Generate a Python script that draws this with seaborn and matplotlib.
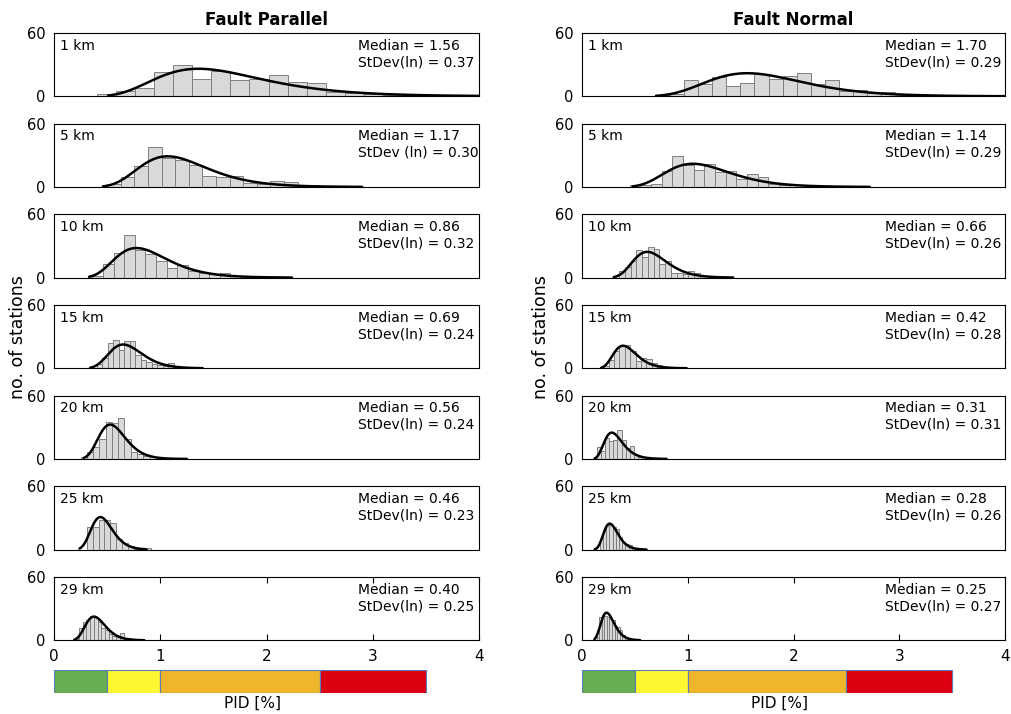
#!/usr/bin/env python
# -*- coding: utf-8 -*-

"""
PID histograms per distance, fault parallel / fault normal
"""

import numpy as np
import pandas as pd
import matplotlib
matplotlib.use("Agg")
import matplotlib.pyplot as plt
import seaborn as sns

sns.set_style("white")
plt.rcParams['font.family'] = ['DejaVu Sans']
plt.rcParams['text.color'] = 'black'
plt.rcParams['axes.labelcolor'] = 'black'
plt.rcParams['xtick.color'] = 'black'
plt.rcParams['ytick.color'] = 'black'

# distances (km)
distances = [1, 5, 10, 15, 20, 25, 29]

# Fault Parallel: histogram counts, first bin edge, bin width
fp_counts = [
    [2, 5, 8, 23, 30, 16, 24, 15, 16, 20, 14, 13, 4, 3, 2, 1],
    [3, 9, 20, 38, 27, 26, 21, 10, 9, 10, 4, 3, 6, 5],
    [2, 13, 23, 40, 26, 22, 16, 9, 12, 6, 4, 3, 4, 2, 2],
    [4, 10, 24, 27, 17, 26, 26, 13, 8, 6, 4, 3, 2, 5],
    [2, 7, 11, 19, 35, 34, 39, 19, 7, 5, 3],
    [21, 21, 28, 28, 25, 10, 6, 3, 1, 0, 2],
    [1, 12, 17, 19, 23, 22, 17, 12, 10, 6, 4, 3, 7, 1, 2],
]
fp_bin_start = [0.40, 0.50, 0.36, 0.40, 0.25, 0.31, 0.20]
fp_bin_width = [0.18, 0.128, 0.10, 0.052, 0.059, 0.055, 0.035]
fp_median = [1.56, 1.17, 0.86, 0.69, 0.56, 0.46, 0.40]
fp_stdev = [0.37, 0.30, 0.32, 0.24, 0.24, 0.23, 0.25]
fp_curve_lo = [0.51, 0.46, 0.33, 0.34, 0.28, 0.24, 0.19]
fp_curve_hi = [4.0, 2.9, 2.24, 1.40, 1.25, 0.87, 0.85]

# Fault Normal
fn_counts = [
    [1, 2, 15, 12, 18, 10, 13, 21, 16, 19, 22, 12, 15, 5, 6, 3, 4, 1],
    [2, 2, 3, 15, 29, 21, 16, 22, 14, 15, 8, 12, 9, 3, 2],
    [6, 10, 16, 26, 20, 29, 27, 13, 16, 4, 4, 3, 6, 4, 2],
    [2, 8, 16, 21, 22, 16, 7, 10, 9, 5, 3],
    [11, 8, 20, 17, 18, 27, 18, 10, 12, 4, 2],
    [10, 18, 22, 23, 21, 20, 12, 7, 5, 4, 2, 1],
    [3, 22, 24, 23, 22, 20, 19, 14, 13, 10, 5, 2, 1],
]
fn_bin_start = [0.70, 0.45, 0.35, 0.20, 0.14, 0.17, 0.14]
fn_bin_width = [0.133, 0.101, 0.0546, 0.051, 0.039, 0.03, 0.024]
fn_median = [1.70, 1.14, 0.66, 0.42, 0.31, 0.28, 0.25]
fn_stdev = [0.29, 0.29, 0.26, 0.28, 0.31, 0.26, 0.27]
fn_curve_lo = [0.70, 0.48, 0.30, 0.18, 0.12, 0.12, 0.117]
fn_curve_hi = [4.0, 2.72, 1.43, 0.99, 0.80, 0.61, 0.55]

# PID damage scale bar
pid_edges = [0.0, 0.5, 1.0, 2.5, 3.5]
pid_colors = ['#67ad52', '#fdf731', '#efb62b', '#dd0010']

W, H = 1011, 714
fig = plt.figure(figsize=(W / 100, H / 100), dpi=100)


def lognormal_fit(lo, hi, med, sd, n, w):
    # 拟合曲线: 对数正态分布按样本数和箱宽缩放
    xs = np.linspace(lo, hi, 400)
    pdf = np.exp(-(np.log(xs) - np.log(med)) ** 2 / (2 * sd ** 2)) / (xs * sd * np.sqrt(2 * np.pi))
    return xs, pdf * n * w


def draw_column(x0, x1, title, counts, starts, widths, meds, sds, los, his, sd_labels):
    axes = []
    for k in range(len(distances)):
        top = 33 + 90.67 * k
        ax = fig.add_axes([x0 / W, 1 - (top + 63.3) / H, (x1 - x0) / W, 63.3 / H])
        c = np.array(counts[k], dtype=float)
        edges = starts[k] + widths[k] * np.arange(len(c) + 1)
        df = pd.DataFrame({'pid': (edges[:-1] + edges[1:]) / 2, 'n': c})
        sns.histplot(data=df, x='pid', weights='n', bins=edges.tolist(), ax=ax,
                     color='#d9d9d9', edgecolor='#7f7f7f', linewidth=0.7, alpha=1)
        xs, ys = lognormal_fit(los[k], his[k], meds[k], sds[k], c.sum(), widths[k])
        ax.plot(xs, ys, color='black', linewidth=1.8)
        ax.set_xlim(0, 4)
        ax.set_ylim(0, 60)
        ax.set_yticks([0, 60])
        ax.set_ylabel('')
        ax.set_xlabel('')
        ax.tick_params(axis='y', direction='in', length=0, labelsize=10.5, pad=6)
        for s in ax.spines.values():
            s.set_color('black')
            s.set_linewidth(0.8)
        ax.text(0.015, 0.80, f'{distances[k]} km', transform=ax.transAxes,
                fontsize=10, va='center', ha='left')
        ax.text(0.716, 0.80, f'Median = {meds[k]:.2f}', transform=ax.transAxes,
                fontsize=10, va='center', ha='left')
        ax.text(0.716, 0.54, f'{sd_labels[k]} = {sds[k]:.2f}', transform=ax.transAxes,
                fontsize=10, va='center', ha='left')
        if k < len(distances) - 1:
            ax.set_xticks([])
        else:
            ax.set_xticks([0, 1, 2, 3, 4])
            ax.tick_params(axis='x', direction='in', length=4, top=True,
                           bottom=True, labelsize=11, pad=6)
        axes.append(ax)
    axes[0].set_title(title, fontsize=12, fontweight='bold', pad=6)

    # PID colour bar
    cax = fig.add_axes([x0 / W, 1 - 692.7 / H, (x1 - x0) / W, 22.7 / H])
    cax.barh([0.5] * 4, np.diff(pid_edges), left=pid_edges[:-1], height=1,
             color=pid_colors, edgecolor='#5a7db5', linewidth=0.8)
    cax.set_xlim(0, 4)
    cax.set_ylim(0, 1)
    cax.axis('off')
    cax.text(1.87, -0.48, 'PID [%]', fontsize=11, ha='center', va='center')
    return axes


sd_fp = ['StDev(ln)', 'StDev (ln)'] + ['StDev(ln)'] * 5
sd_fn = ['StDev(ln)'] * 7
draw_column(54, 479, 'Fault Parallel', fp_counts, fp_bin_start, fp_bin_width,
            fp_median, fp_stdev, fp_curve_lo, fp_curve_hi, sd_fp)
draw_column(582, 1005, 'Fault Normal', fn_counts, fn_bin_start, fn_bin_width,
            fn_median, fn_stdev, fn_curve_lo, fn_curve_hi, sd_fn)

fig.text(18 / W, 1 - 337 / H, 'no. of stations', rotation=90, fontsize=12.5,
         ha='center', va='center')
fig.text(541 / W, 1 - 337 / H, 'no. of stations', rotation=90, fontsize=12.5,
         ha='center', va='center')

fig.savefig('out.png', dpi=100)
plt.close(fig)
